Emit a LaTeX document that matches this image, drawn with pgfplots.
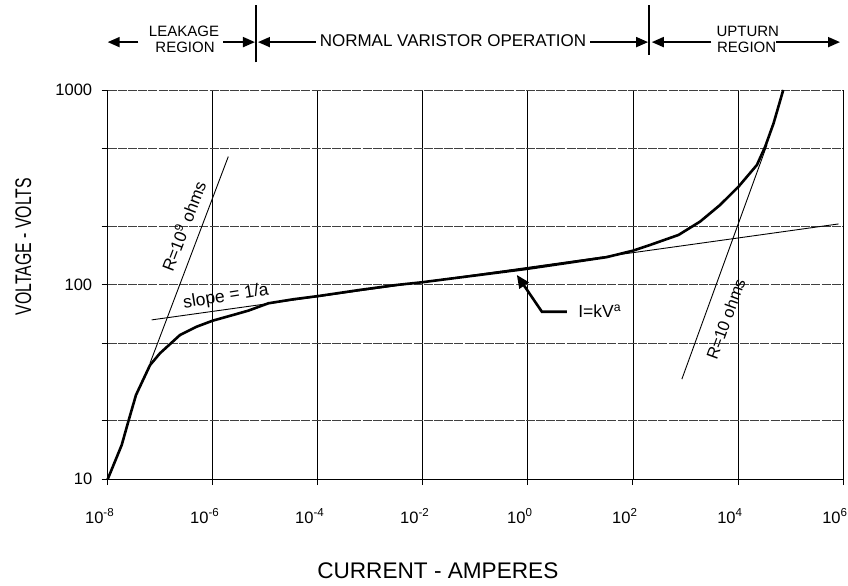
\documentclass[border=0pt]{standalone}
\usepackage{fontspec}
\setmainfont{Liberation Sans}
\usepackage{graphicx}
\usepackage{pgfplots}
\pgfplotsset{compat=1.18}
\usetikzlibrary{arrows.meta}
\newcommand{\fs}[1]{\fontsize{#1bp}{#1bp}\selectfont}
\begin{document}
\begin{tikzpicture}[
  toparrow/.style={line width=1.8bp, -{Triangle[length=12bp,width=10bp]}},
]
\begin{axis}[
  width=735.3bp, height=389.3bp, scale only axis,
  xmode=log, ymode=log,
  xmin=1e-8, xmax=1e6, ymin=10, ymax=1000,
  axis x line*=bottom, axis y line*=left,
  axis line style={-, line width=1bp, black},
  xtick={1e-8,1e-6,1e-4,1e-2,1,1e2,1e4,1e6},
  xticklabels={10\textsuperscript{-8},10\textsuperscript{-6},10\textsuperscript{-4},10\textsuperscript{-2},10\textsuperscript{0},10\textsuperscript{2},10\textsuperscript{4},10\textsuperscript{6}},
  ytick={10,20,50,100,200,500,1000},
  yticklabels={10,,,100,,,1000},
  minor xtick={}, minor ytick={},
  xmajorgrids, ymajorgrids,
  major x grid style={black, line width=0.7bp},
  major y grid style={black!75, line width=0.9bp, dash pattern=on 9bp off 1.2bp},
  tick style={black, line width=0.8bp},
  major tick length=6bp,
  tick align=outside,
  clip=false,
  xticklabel style={font=\fs{16.5}, anchor=base, yshift=-38bp, xshift=-8bp},
  yticklabel style={font=\fs{16.5}, xshift=-6bp},
]
% main characteristic curve
\addplot[black, line width=2.6bp, line join=round] coordinates {
 (1e-8,10) (1.85e-8,15) (2.47e-8,19.8) (3.46e-8,27.1) (6.40e-8,38.6)
 (9.9e-8,44.4) (2.38e-7,55.1) (4.95e-7,60.8) (1e-6,65.3) (2.47e-6,69.9)
 (4.76e-6,73.5) (1.15e-5,80.2) (3.43e-5,84.1) (1.07e-4,87.5) (6.46e-4,94)
 (3.16e-3,99.6) (9.55e-3,102.8) (0.166,113.4) (0.955,120.5) (31.6,138.4)
 (102,149.6) (214,160) (740,180) (1914,211) (4603,257) (1.03e4,319)
 (2.30e4,412) (3.31e4,512) (4.78e4,675) (7.3e4,1000)
};
% slope = 1/a tangent
\addplot[black, line width=0.9bp] coordinates {(6.89e-8,65.9) (8.24e5,205)};
% R = 10^9 ohms
\addplot[black, line width=0.9bp] coordinates {(6.40e-8,39.5) (1.98e-6,455)};
% R = 10 ohms
\addplot[black, line width=0.9bp] coordinates {(857,32.7) (3.57e4,522)};

% annotations in the plot
\node[rotate=69, font=\fs{17}] at (axis cs:2.72e-7,200) {R=10\textsuperscript{9} ohms};
\node[rotate=70, font=\fs{16.5}] at (axis cs:5900,66.5) {R=10 ohms};
\node[rotate=9, font=\fs{17.5}] at (axis cs:1.79e-6,86.5) {slope = 1/a};
\node[anchor=west, inner sep=0pt, font=\fs{17.5}] at (axis cs:9.08,73.3) {I=kV\textsuperscript{a}};
\draw[line width=2.6bp, -{Triangle[length=13bp,width=11bp]}]
  (axis cs:5.53,72.6) -- (axis cs:1.85,72.6) -- (axis cs:0.617,112.2);

% axis labels
\node[anchor=base, font=\fs{22.6}] at (rel axis cs:0.449,-0.2543) {CURRENT - AMPERES};
\node[rotate=90, font=\fs{22.6}] at (rel axis cs:-0.1148,0.5975) {\scalebox{0.7}[1]{VOLTAGE - VOLTS}};

% region annotations above the plot
\node[anchor=base, font=\fs{15}] at (rel axis cs:0.1038,1.1369) {LEAKAGE};
\node[anchor=base, font=\fs{15}] at (rel axis cs:0.1052,1.0968) {REGION};
\node[anchor=base, font=\fs{17}] at (rel axis cs:0.4696,1.1112) {NORMAL VARISTOR OPERATION};
\node[anchor=base, font=\fs{15}] at (rel axis cs:0.8706,1.1369) {UPTURN};
\node[anchor=base, font=\fs{15}] at (rel axis cs:0.869,1.0968) {REGION};

\draw[toparrow] (rel axis cs:0.0416,1.123) -- (rel axis cs:0,1.123);
\draw[toparrow] (rel axis cs:0.157,1.123) -- (rel axis cs:0.2003,1.123);
\draw[line width=1.5bp] (rel axis cs:0.2017,1.071) -- (rel axis cs:0.2017,1.218);
\draw[toparrow] (rel axis cs:0.283,1.123) -- (rel axis cs:0.2044,1.123);
\draw[toparrow] (rel axis cs:0.656,1.123) -- (rel axis cs:0.735,1.123);
\draw[line width=1.5bp] (rel axis cs:0.7365,1.090) -- (rel axis cs:0.7365,1.218);
\draw[toparrow] (rel axis cs:0.821,1.123) -- (rel axis cs:0.740,1.123);
\draw[toparrow] (rel axis cs:0.909,1.123) -- (rel axis cs:0.996,1.123);

\coordinate (bbll) at (rel axis cs:-0.14647,-0.27408);
\coordinate (bbur) at (rel axis cs:1.00686,1.23118);
\end{axis}
\pgfresetboundingbox
\useasboundingbox (bbll) rectangle (bbur);
\end{tikzpicture}
\end{document}
